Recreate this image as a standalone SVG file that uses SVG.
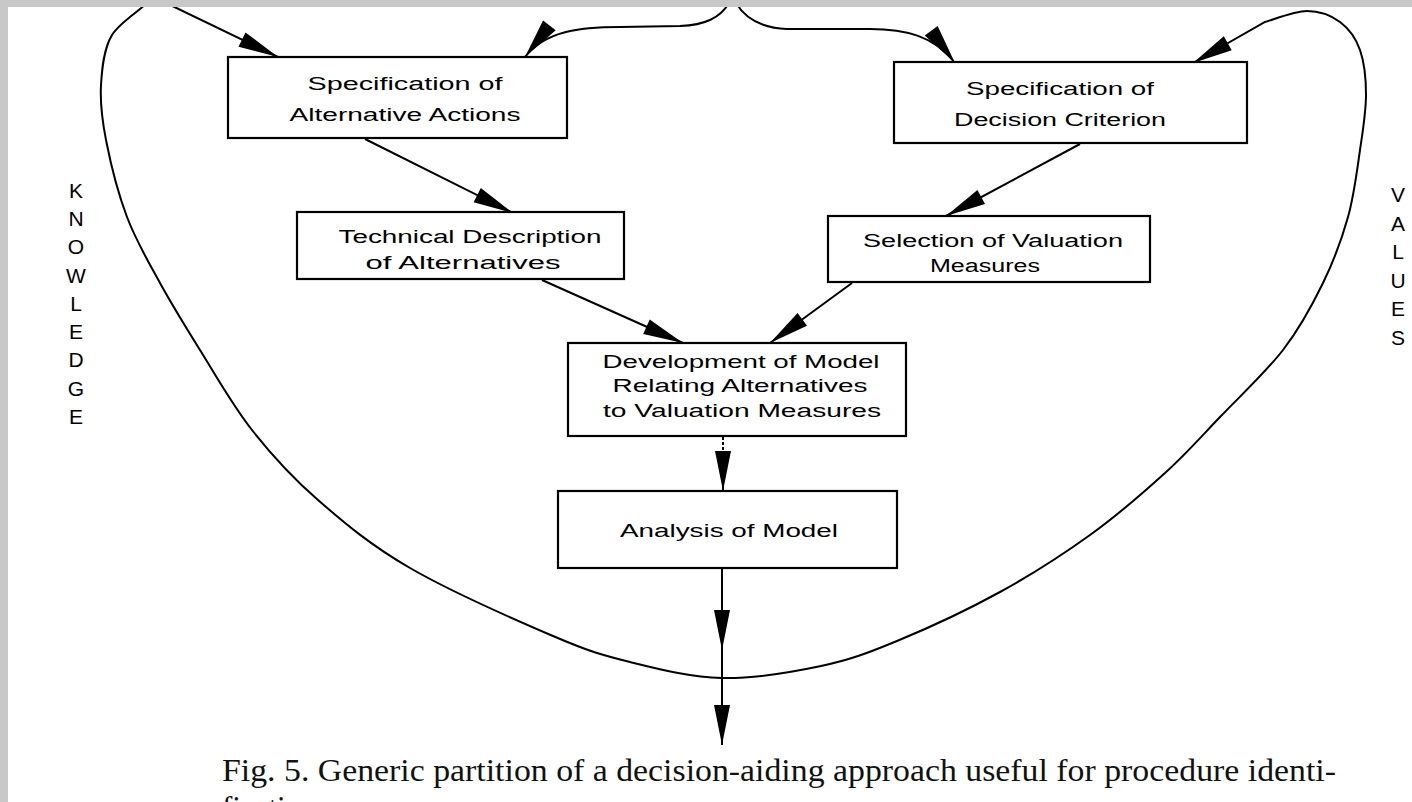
<svg xmlns="http://www.w3.org/2000/svg" width="1412" height="802" viewBox="0 0 1412 802">
<style>
.box{fill:#fff;stroke:#000;stroke-width:2.2}
.lbl{font-family:"Liberation Sans",Arial,sans-serif;font-size:18px;fill:#000;text-anchor:middle}
.side{font-family:"Liberation Sans",Arial,sans-serif;font-size:21px;fill:#000;text-anchor:middle}
.cap{font-family:"Liberation Serif","Times New Roman",serif;font-size:31px;fill:#111}
.ln{fill:none;stroke:#000;stroke-width:2}
</style>
<defs>
<marker id="ah" markerUnits="userSpaceOnUse" markerWidth="44" markerHeight="20" viewBox="-42 -10 44 20" refX="0" refY="0" orient="auto">
<path d="M0,0 L-40,-8 L-40,8 Z" fill="#000"/>
</marker>
</defs>
<rect x="0" y="0" width="1412" height="802" fill="#fff"/>

<g id="connectors">
<path class="ln" marker-end="url(#ah)" d="M150,0 C143.7,8.3 120.2,21.3 112,35 C103.8,48.7 102,67.5 101,85 C100,102.5 101.7,118 106,140 C110.3,162 118,193.2 127,217 C136,240.8 147.8,260.8 160,283 C172.2,305.2 184.7,325.5 200,350 C215.3,374.5 232.3,405 252,430 C271.7,455 291.7,477 318,500 C344.3,523 370.8,545.3 410,568 C449.2,590.7 516.3,620.3 553,636 C589.7,651.7 601.8,655 630,662 C658.2,669 690.2,677.3 722,678 C753.8,678.7 791.8,672.2 821,666 C850.2,659.8 867.2,653.3 897,641 C926.8,628.7 967.8,609.7 1000,592 C1032.2,574.3 1062.5,554.8 1090,535 C1117.5,515.2 1143.3,492.7 1165,473 C1186.7,453.3 1200.3,437.5 1220,417 C1239.7,396.5 1265.8,372.3 1283,350 C1300.2,327.7 1312.2,305.2 1323,283 C1333.8,260.8 1341.8,239.2 1348,217 C1354.2,194.8 1357,170.3 1360,150 C1363,129.7 1366,111.7 1366,95 C1366,78.3 1364.3,62.2 1360,50 C1355.7,37.8 1348.8,28.5 1340,22 C1331.2,15.5 1319.5,11 1307,11 C1294.5,11 1272,20.2 1265,22 L1193,63"/>
<path class="ln" marker-end="url(#ah)" d="M160,0 L278,57"/>
<path class="ln" marker-end="url(#ah)" d="M729,3 C720,18 705,25 680,26 L620,27 C580,27 545,31 525,57"/>
<path class="ln" marker-end="url(#ah)" d="M736,3 C745,18 760,28 787,29 L870,29 C905,29 935,36 955,63"/>
<path class="ln" marker-end="url(#ah)" d="M365,139 L513,213"/>
<path class="ln" marker-end="url(#ah)" d="M1080,144 L946,216"/>
<path class="ln" marker-end="url(#ah)" d="M542,280 L683,343"/>
<path class="ln" marker-end="url(#ah)" d="M852,283 L770,343"/>
<path class="ln" stroke-dasharray="3 2" d="M723,437 L723,458"/>
<path class="ln" marker-end="url(#ah)" d="M723,456 L723,491"/>
<path class="ln" marker-mid="url(#ah)" marker-end="url(#ah)" d="M722,568 L722,650 L722,745"/>
</g>

<g id="n1"><rect class="box" x="228" y="57" width="339" height="81"/>
<text class="lbl" x="405" y="90" textLength="195" lengthAdjust="spacingAndGlyphs">Specification of</text>
<text class="lbl" x="405" y="121" textLength="231" lengthAdjust="spacingAndGlyphs">Alternative Actions</text></g>

<g id="n2"><rect class="box" x="894" y="62" width="353" height="81"/>
<text class="lbl" x="1060" y="95" textLength="188" lengthAdjust="spacingAndGlyphs">Specification of</text>
<text class="lbl" x="1060" y="126" textLength="212" lengthAdjust="spacingAndGlyphs">Decision Criterion</text></g>

<g id="n3"><rect class="box" x="297" y="212" width="327" height="67"/>
<text class="lbl" x="470" y="243" textLength="263" lengthAdjust="spacingAndGlyphs">Technical Description</text>
<text class="lbl" x="463" y="269" textLength="195" lengthAdjust="spacingAndGlyphs">of Alternatives</text></g>

<g id="n4"><rect class="box" x="828" y="216" width="322" height="66"/>
<text class="lbl" x="993" y="247" textLength="260" lengthAdjust="spacingAndGlyphs">Selection of Valuation</text>
<text class="lbl" x="985" y="272" textLength="110" lengthAdjust="spacingAndGlyphs">Measures</text></g>

<g id="n5"><rect class="box" x="568" y="343" width="338" height="93"/>
<text class="lbl" x="741" y="368" textLength="277" lengthAdjust="spacingAndGlyphs">Development of Model</text>
<text class="lbl" x="740" y="392" textLength="255" lengthAdjust="spacingAndGlyphs">Relating Alternatives</text>
<text class="lbl" x="742" y="417" textLength="278" lengthAdjust="spacingAndGlyphs">to Valuation Measures</text></g>

<g id="n6"><rect class="box" x="558" y="491" width="339" height="77"/>
<text class="lbl" x="729" y="537" textLength="218" lengthAdjust="spacingAndGlyphs">Analysis of Model</text></g>

<g id="knowledge">
<text class="side" x="76" y="198">K</text>
<text class="side" x="76" y="226">N</text>
<text class="side" x="76" y="254">O</text>
<text class="side" x="76" y="283">W</text>
<text class="side" x="76" y="311">L</text>
<text class="side" x="76" y="339">E</text>
<text class="side" x="76" y="367">D</text>
<text class="side" x="76" y="396">G</text>
<text class="side" x="76" y="424">E</text>
</g>
<g id="values">
<text class="side" x="1398" y="202">V</text>
<text class="side" x="1398" y="231">A</text>
<text class="side" x="1398" y="259">L</text>
<text class="side" x="1398" y="288">U</text>
<text class="side" x="1398" y="316">E</text>
<text class="side" x="1398" y="345">S</text>
</g>

<g id="caption">
<text class="cap" x="222" y="781" textLength="1114" lengthAdjust="spacingAndGlyphs">Fig. 5.  Generic partition of a decision-aiding approach useful for procedure identi-</text>
<text class="cap" x="222" y="818">fication.</text>
</g>

<rect x="0" y="0" width="1412" height="7" fill="#c8c8c8"/>
<rect x="0" y="0" width="8" height="802" fill="#c8c8c8"/>
</svg>
